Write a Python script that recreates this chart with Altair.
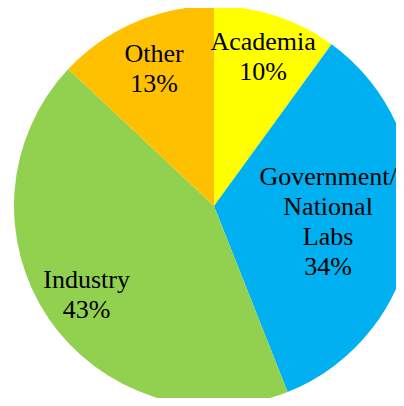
import altair as alt
import pandas as pd

categories = ["Academia", "Government/National Labs", "Industry", "Other"]
labels = ["Academia", "Government/\nNational\nLabs", "Industry", "Other"]
values = [10, 34, 43, 13]
colors = ["#FFFF00", "#00B0F0", "#92D050", "#FFC000"]

df = pd.DataFrame({
    "category": categories,
    "label": labels,
    "value": values,
    "order": list(range(len(categories))),
})

cx, cy = 206, 198
line_h = 30

pie = alt.Chart(df).mark_arc(outerRadius=200).encode(
    theta=alt.Theta("value:Q", stack=True),
    order=alt.Order("order:Q"),
    color=alt.Color("category:N", scale=alt.Scale(domain=categories, range=colors), legend=None),
    x=alt.value(cx),
    y=alt.value(cy),
)

text = alt.Chart(df).transform_window(
    cum="sum(value)", sort=[alt.SortField("order")], frame=[None, 0]
).transform_joinaggregate(
    total="sum(value)"
).transform_calculate(
    mid="(datum.cum - datum.value / 2) / datum.total * 2 * PI",
    txt="datum.label + '\\n' + datum.value + '%'",
    lr="datum.category == 'Government/National Labs' ? 115 : (datum.category == 'Other' ? 151 : (datum.category == 'Academia' ? 159 : 154))",
).transform_calculate(
    nl="split(datum.txt, '\\n').length",
).transform_calculate(
    px="datum.lr * sin(datum.mid)",
    py=f"-datum.lr * cos(datum.mid) - (datum.nl - 1) * {line_h} / 2 + 2",
).transform_calculate(
    r2="sqrt(datum.px * datum.px + datum.py * datum.py)",
    th2="atan2(datum.px, -datum.py)",
).mark_text(
    font="Liberation Serif", fontSize=26, lineHeight=line_h, lineBreak="\n",
    color="black", align="center", baseline="middle",
).encode(
    theta=alt.Theta("th2:Q", scale=None, stack=False),
    radius=alt.Radius("r2:Q", scale=None),
    text="txt:N",
    x=alt.value(cx),
    y=alt.value(cy),
)

chart = alt.layer(pie, text).properties(
    width=388, height=390, padding=0, autosize=alt.AutoSizeParams(type="none"),
    background="white",
).configure_view(strokeWidth=0)

chart.save("out.html", embed_options={"renderer": "svg", "actions": False})
